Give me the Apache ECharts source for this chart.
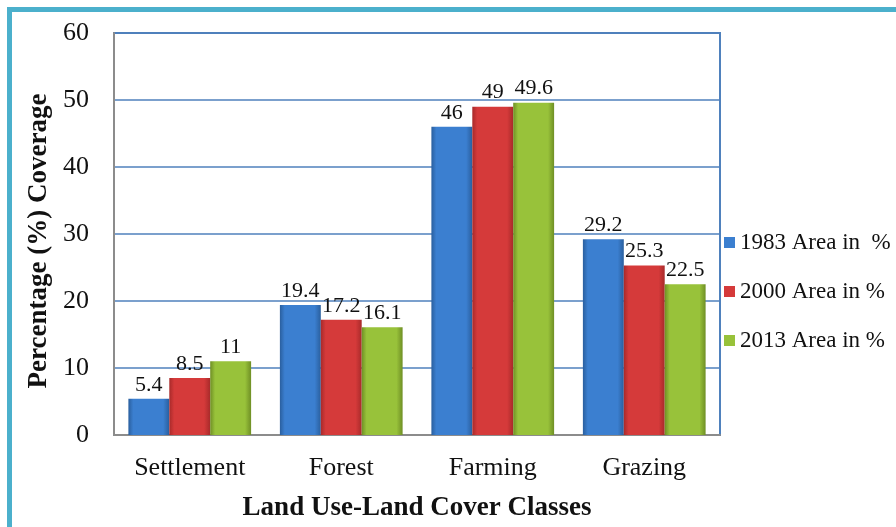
<!DOCTYPE html>
<html>
<head>
<meta charset="utf-8">
<script src="https://cdn.jsdelivr.net/npm/echarts@6/dist/echarts.min.js"></script>
<style>
  html, body { margin: 0; padding: 0; background: #fff; }
  #chart { width: 896px; height: 527px; }
</style>
</head>
<body>
<div id="chart"></div>
<script>
// land use classes and coverage (%) per year
const categories = ['Settlement', 'Forest', 'Farming', 'Grazing'];
const y1983 = [5.4, 19.4, 46, 29.2];
const y2000 = [8.5, 17.2, 49, 25.3];
const y2013 = [11, 16.1, 49.6, 22.5];
const seriesNames = ['1983 Area in  %', '2000 Area in %', '2013 Area in %'];
const yTicks = { min: 0, max: 60, interval: 10 };

const serif = 'Liberation Serif';

// bevel-ish horizontal gradient: darker edges, lighter middle
function bevel(edge, mid) {
    return new echarts.graphic.LinearGradient(0, 0, 1, 0, [
        { offset: 0, color: edge },
        { offset: 0.12, color: mid },
        { offset: 0.85, color: mid },
        { offset: 1, color: edge }
    ]);
}

const colors = [
    bevel('#2a5f9e', '#3b7fd0'),
    bevel('#a82a2a', '#d53a3a'),
    bevel('#6f8f25', '#98c23a')
];
const legendColors = ['#3b7fd0', '#d53a3a', '#98c23a'];

function barSeries(name, data, i) {
    return {
        name: name,
        type: 'bar',
        data: data,
        barGap: '0%',
        barCategoryGap: '19%',
        itemStyle: { color: colors[i] },
        label: {
            show: true,
            position: 'top',
            distance: 3,
            color: '#111',
            fontFamily: serif,
            fontSize: 22
        }
    };
}

let myChart = echarts.init(document.getElementById('chart'));
myChart.setOption({
    backgroundColor: '#fff',
    color: legendColors,
    animation: false,
    graphic: [
        { type: 'rect', shape: { x: 7, y: 7, width: 889, height: 5 }, style: { fill: '#4bb0cc' } },
        { type: 'rect', shape: { x: 7, y: 7, width: 5, height: 520 }, style: { fill: '#4bb0cc' } }
    ],
    grid: {
        left: 114,
        right: 176,
        top: 33,
        bottom: 90,
        show: true,
        borderColor: '#4f81bd',
        borderWidth: 2
    },
    legend: {
        orient: 'vertical',
        left: 719,
        top: 226,
        itemGap: 26,
        itemWidth: 11,
        itemHeight: 11,
        icon: 'rect',
        textStyle: { fontFamily: serif, fontSize: 23, color: '#111' },
        data: seriesNames.map((n, i) => ({ name: n, itemStyle: { color: legendColors[i] } }))
    },
    xAxis: {
        type: 'category',
        data: categories,
        name: 'Land Use-Land Cover Classes',
        nameLocation: 'middle',
        nameGap: 60,
        nameTextStyle: { fontFamily: serif, fontSize: 27, fontWeight: 'bold', color: '#111' },
        axisLine: { lineStyle: { color: '#8c8c8c', width: 2 } },
        axisTick: { show: false },
        axisLabel: { fontFamily: serif, fontSize: 26, color: '#111', margin: 20 }
    },
    yAxis: {
        type: 'value',
        min: yTicks.min,
        max: yTicks.max,
        interval: yTicks.interval,
        name: 'Percentage (%) Coverage',
        nameLocation: 'middle',
        nameGap: 52,
        nameTextStyle: { fontFamily: serif, fontSize: 27, fontWeight: 'bold', color: '#111', padding: [0, 14, 0, 0] },
        axisLine: { show: true, lineStyle: { color: '#8c8c8c', width: 2 } },
        axisTick: { show: false },
        axisLabel: { fontFamily: serif, fontSize: 26, color: '#111', margin: 25 },
        splitLine: { lineStyle: { color: '#4f81bd', width: 1.5 } }
    },
    series: [
        barSeries(seriesNames[0], y1983, 0),
        barSeries(seriesNames[1], y2000, 1),
        barSeries(seriesNames[2], y2013, 2)
    ]
});
</script>
</body>
</html>
